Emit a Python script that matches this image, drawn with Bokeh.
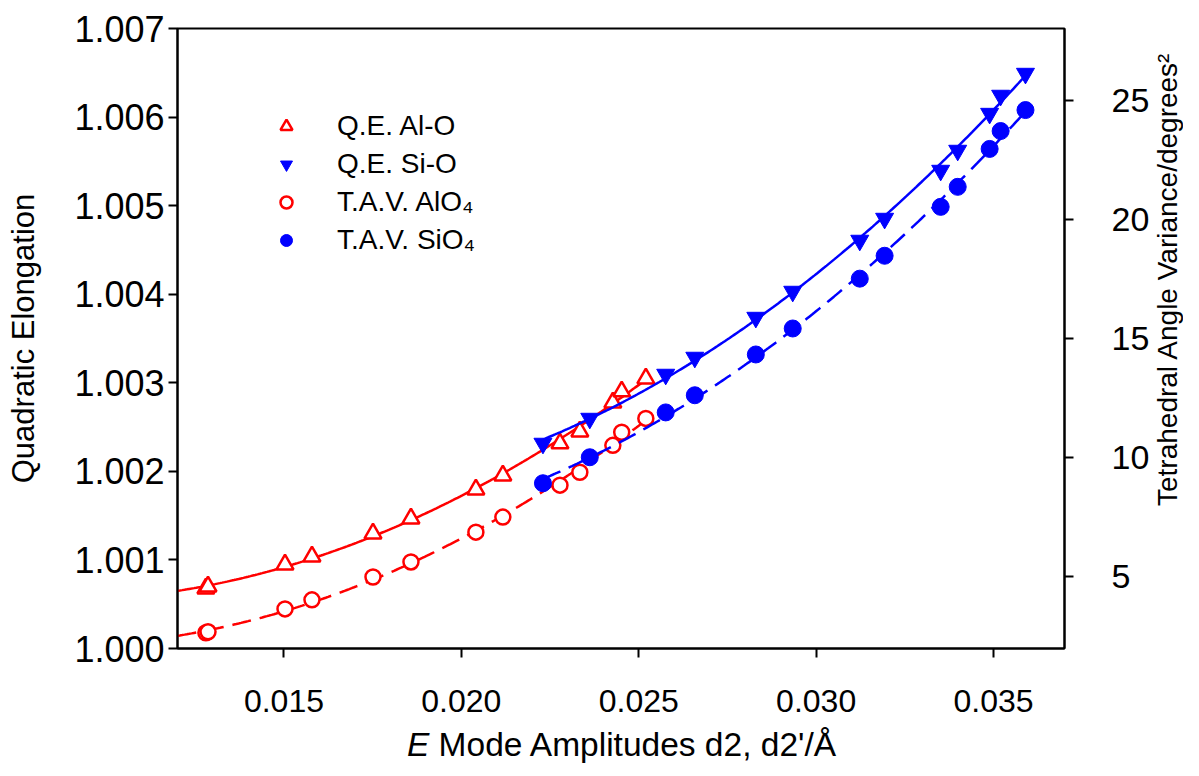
import numpy as np
from bokeh.plotting import figure
from bokeh.layouts import column, row
from bokeh.models import (Range1d, LinearAxis, FixedTicker, PrintfTickFormatter,
                          Legend, LegendItem, Div)
from bokeh.embed import file_html
from bokeh.resources import INLINE

# ---- data ----
al_x = [0.01280, 0.01286, 0.01503, 0.01579, 0.01751, 0.01858, 0.02041,
        0.02117, 0.02278, 0.02334, 0.02427, 0.02452, 0.02520]
al_qe = [1.000677, 1.000700, 1.000948, 1.001039, 1.001298, 1.001468, 1.001795,
         1.001953, 1.002315, 1.002450, 1.002777, 1.002902, 1.003048]
al_tav = [2.66, 2.70, 3.66, 4.04, 5.00, 5.63, 6.88, 7.51, 8.85, 9.39,
          10.52, 11.07, 11.65]

si_x = [0.02230, 0.02362, 0.02576, 0.02658, 0.02830, 0.02934, 0.03123,
        0.03193, 0.03351, 0.03399, 0.03489, 0.03520, 0.03590]
si_qe = [1.002315, 1.002597, 1.003094, 1.003286, 1.003737, 1.004031, 1.004607,
         1.004855, 1.005397, 1.005623, 1.006040, 1.006244, 1.006492]
si_tav = [8.93, 10.02, 11.90, 12.62, 14.33, 15.42, 17.51, 18.47, 20.52, 21.36,
          22.95, 23.70, 24.58]

x_ticks = [0.015, 0.020, 0.025, 0.030, 0.035]
qe_ticks = [1.000, 1.001, 1.002, 1.003, 1.004, 1.005, 1.006, 1.007]
tav_ticks = [5, 10, 15, 20, 25]

RED = "#FF0000"
BLUE = "#0000FF"
FONT = "Liberation Sans"

X0, X1 = 0.012, 0.037
TAV0, TAV1 = 2, 28
W, H = 1152, 730
FL, FT, FW, FH = 177, 28, 889, 620

p = figure(width=W, height=H, x_range=Range1d(X0, X1),
           y_range=Range1d(1.000, 1.007), output_backend="svg",
           toolbar_location=None, min_border_left=FL,
           min_border_right=W - FL - FW, min_border_top=FT,
           min_border_bottom=H - FT - FH)
p.extra_y_ranges = {"tav": Range1d(TAV0, TAV1)}
p.xgrid.visible = False
p.ygrid.visible = False
p.outline_line_color = "black"
p.outline_line_width = 2
p.outline_line_alpha = 1.0
p.background_fill_color = "white"
p.border_fill_color = "white"


def style_axis(ax, size):
    ax.axis_line_width = 2
    ax.axis_line_color = "black"
    ax.major_tick_line_width = 2
    ax.major_tick_line_color = "black"
    ax.major_tick_out = 9
    ax.major_tick_in = 0
    ax.minor_tick_line_color = None
    ax.major_label_text_font = FONT
    ax.major_label_text_font_size = size
    ax.major_label_text_color = "black"
    ax.axis_label_text_font = FONT
    ax.axis_label_text_font_style = "normal"
    ax.axis_label_text_color = "black"


xa = p.xaxis[0]
style_axis(xa, "32px")
xa.ticker = FixedTicker(ticks=x_ticks)
xa.formatter = PrintfTickFormatter(format="%.3f")
xa.major_label_standoff = 32

ya = p.yaxis[0]
style_axis(ya, "36px")
ya.ticker = FixedTicker(ticks=qe_ticks)
ya.formatter = PrintfTickFormatter(format="%.3f")
ya.axis_label = "Quadratic Elongation"
ya.axis_label_text_font_size = "31px"
ya.major_label_standoff = 4
ya.axis_label_standoff = 30

ra = LinearAxis(y_range_name="tav")
style_axis(ra, "34px")
ra.ticker = FixedTicker(ticks=tav_ticks)
ra.major_label_standoff = 38
p.add_layout(ra, "right")

# ---- fitted curves (quadratic regression of each series) ----
def fit_line(xs, ys, start, end):
    c = np.polyfit(xs, ys, 2)
    xx = np.linspace(start, end, 200)
    return xx, np.polyval(c, xx)

fx, fy = fit_line(al_x, al_qe, X0, al_x[-1])
p.line(fx, fy, line_color=RED, line_width=2.5)
fx, fy = fit_line(al_x, al_tav, X0, al_x[-1])
p.line(fx, fy, line_color=RED, line_width=2.5, line_dash="19 9", y_range_name="tav")

r_al_qe = p.scatter(al_x, al_qe, marker="triangle", size=17, line_color=RED,
                    line_width=2.5, fill_color="white")
r_al_tav = p.scatter(al_x, al_tav, marker="circle", size=15, line_color=RED,
                     line_width=2.5, fill_color="white", y_range_name="tav")

fx, fy = fit_line(si_x, si_qe, si_x[0], si_x[-1])
p.line(fx, fy, line_color=BLUE, line_width=2.5)
fx, fy = fit_line(si_x, si_tav, si_x[0], si_x[-1])
p.line(fx, fy, line_color=BLUE, line_width=2.5, line_dash="19 9", y_range_name="tav")

r_si_qe = p.scatter(si_x, si_qe, marker="inverted_triangle", size=18,
                    line_color=BLUE, fill_color=BLUE)
r_si_tav = p.scatter(si_x, si_tav, marker="circle", size=17, line_color=BLUE,
                     fill_color=BLUE, y_range_name="tav")

legend = Legend(items=[
    LegendItem(label="Q.E. Al-O", renderers=[r_al_qe]),
    LegendItem(label="Q.E. Si-O", renderers=[r_si_qe]),
    LegendItem(label="T.A.V. AlO\u2084", renderers=[r_al_tav]),
    LegendItem(label="T.A.V. SiO\u2084", renderers=[r_si_tav]),
], location=(94, 392))
legend.label_text_font = FONT
legend.label_text_font_size = "28px"
legend.label_text_color = "black"
legend.glyph_width = 30
legend.glyph_height = 30
legend.label_height = 30
legend.spacing = 6
legend.label_standoff = 36
legend.padding = 0
legend.margin = 0
legend.border_line_color = None
legend.background_fill_alpha = 0
p.add_layout(legend, "center")

# ---- right-axis title, reading upwards (HTML text beside the figure) ----
rtitle = Div(
    text="Tetrahedral Angle Variance/degrees\u00b2",
    width=31, height=560, margin=0,
    styles={"writing-mode": "vertical-rl", "transform": "rotate(180deg)",
            "font-family": FONT, "font-size": "28px", "line-height": "31px",
            "text-align": "center", "color": "black", "white-space": "nowrap"},
)

# ---- x-axis title with italic E (HTML text under the figure) ----
xtitle = Div(
    text="<i>E</i> Mode Amplitudes d2, d2'/\u00c5",
    width=FW, height=30, margin=(0, 0, 0, FL),
    styles={"font-family": FONT, "font-size": "33.5px", "line-height": "30px",
            "text-align": "center", "color": "black", "white-space": "nowrap"},
)

layout = column(row(p, rtitle, spacing=0), xtitle, spacing=0)
open("out.html", "w").write(file_html(layout, INLINE))
